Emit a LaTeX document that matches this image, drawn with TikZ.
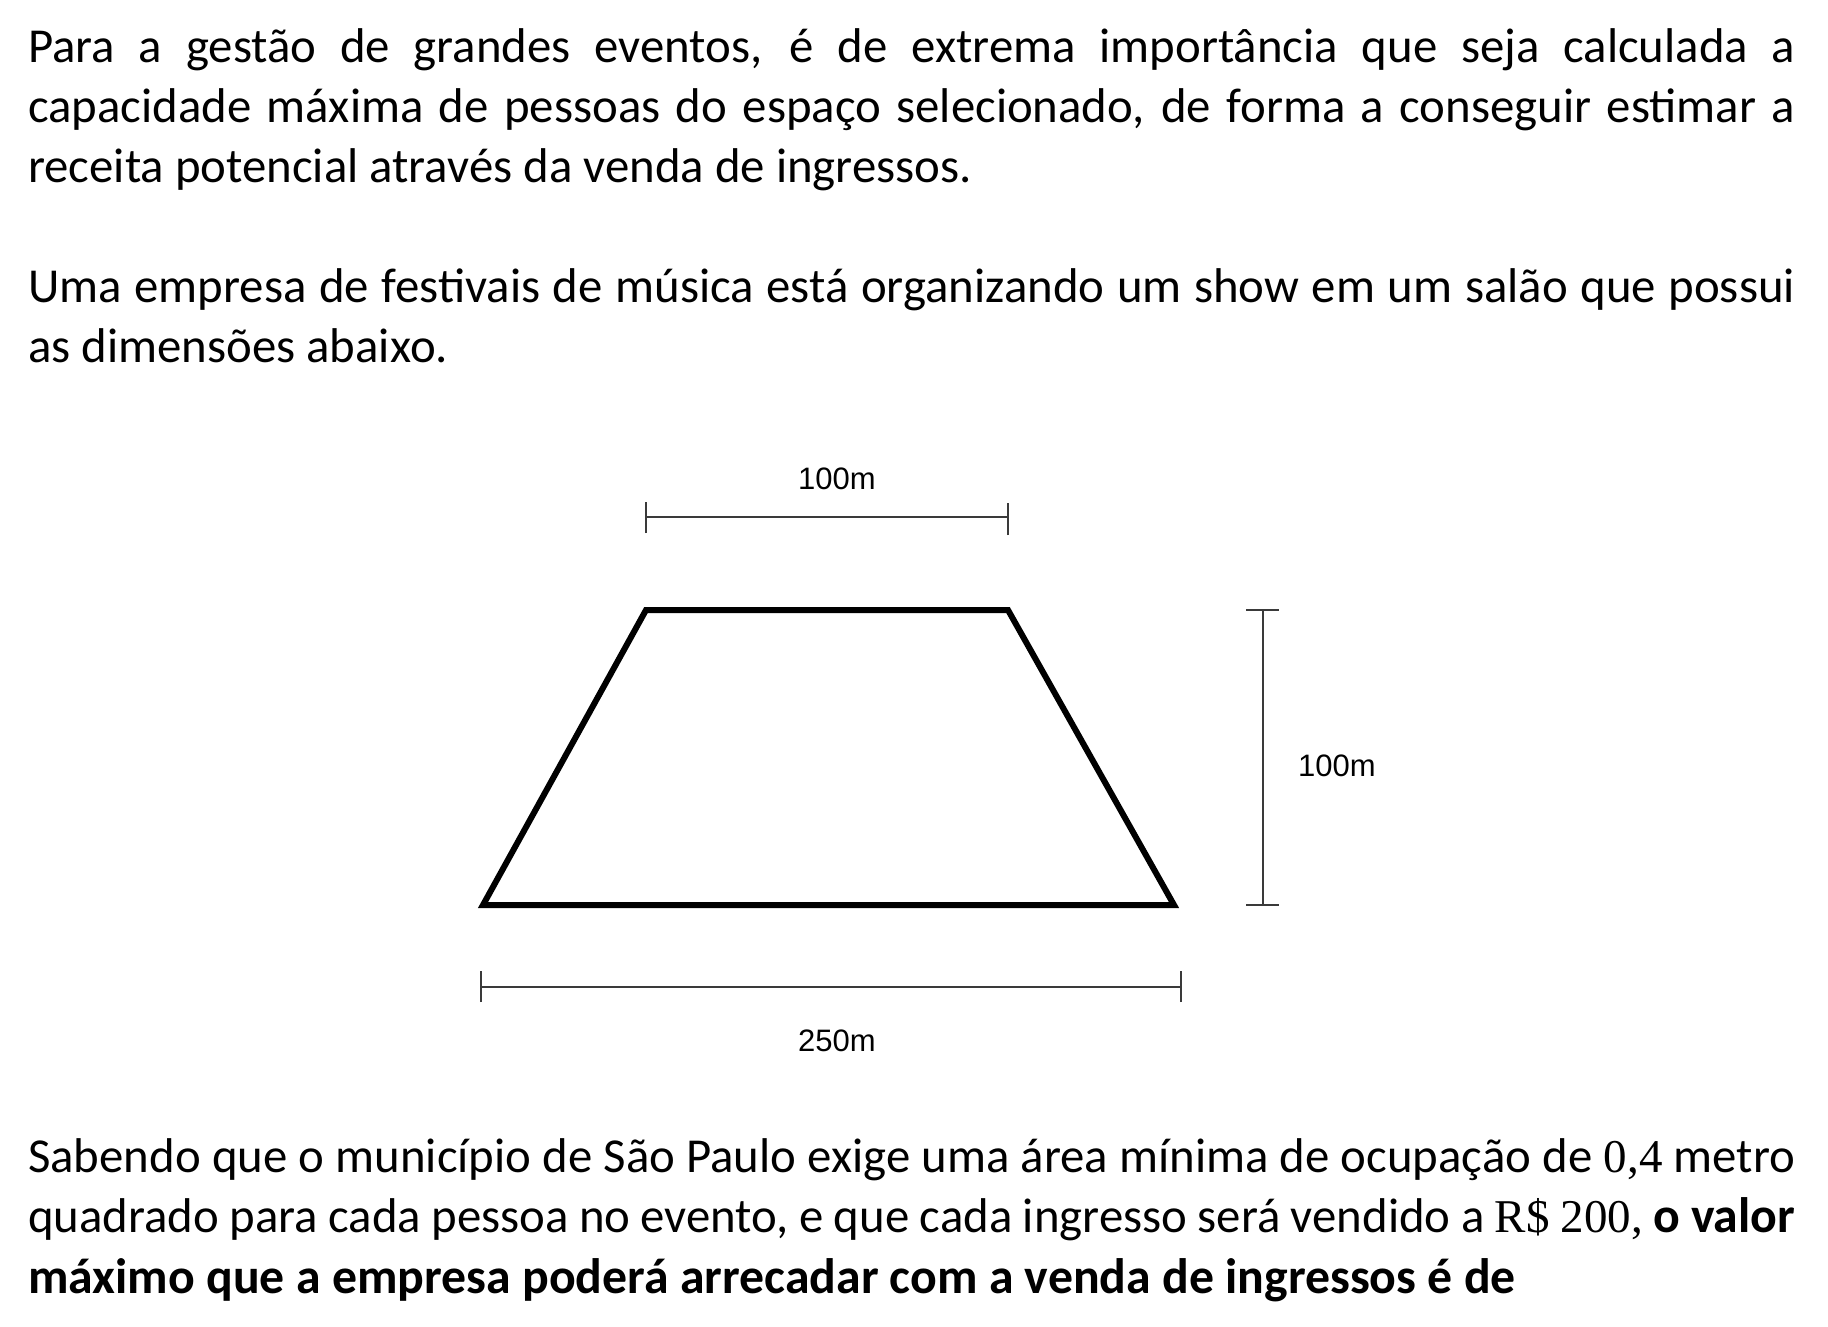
\documentclass[tikz,border=0pt]{standalone}
\usepackage{fontspec}
\setmainfont{Carlito}
\newfontfamily\mathf{Liberation Serif}
\newfontfamily\labelf{Liberation Sans}
\definecolor{dimgray}{HTML}{3A3A3A}
\newcommand{\bodysize}{\fontsize{48.8}{60}\selectfont}
\newcommand{\boldsize}{\fontsize{49.8}{60}\selectfont}
\newcommand{\fullline}[1]{\makebox[1767pt][s]{#1}}
\begin{document}
\begin{tikzpicture}[x=1pt,y=-1pt,
  textline/.style={anchor=base west,inner sep=0pt,font=\bodysize},
  dimlabel/.style={inner sep=0pt,font=\labelf\fontsize{31}{31}\selectfont},
  hall/.style={line width=6pt,line join=miter},
  dimline/.style={draw=dimgray,line width=1.6pt},
]
\useasboundingbox[fill=white] (0,0) rectangle (1828,1326);

% paragraph 1
\node[textline] (l1) at (28,62) {\fullline{Para a gestão de grandes eventos, é de extrema importância que seja calculada a}};
\node[textline] (l2) at (28,122) {\fullline{capacidade máxima de pessoas do espaço selecionado, de forma a conseguir estimar a}};
\node[textline] (l3) at (28,182) {receita potencial através da venda de ingressos.};
% paragraph 2
\node[textline] (l4) at (28,302) {\fullline{Uma empresa de festivais de música está organizando um show em um salão que possui}};
\node[textline] (l5) at (28,362) {as dimensões abaixo.};

% trapezoid
\coordinate (tl) at (646,610);
\coordinate (tr) at (1008,610);
\coordinate (br) at (1174,905);
\coordinate (bl) at (483,905);
\draw[hall] (tl) -- (tr) -- (br) -- (bl) -- cycle;

% top dimension
\coordinate (ta) at (646,517);
\coordinate (tb) at (1008,517);
\draw[dimline] (ta) -- (tb);
\draw[dimline] ([yshift=-16pt]ta) -- ([yshift=15pt]ta);
\draw[dimline] ([yshift=-18pt]tb) -- ([yshift=14pt]tb);
\node[dimlabel] (toplab) at (837,479) {100m};

% right dimension
\coordinate (ra) at (1263,610);
\coordinate (rb) at (1263,905);
\draw[dimline] (ra) -- (rb);
\draw[dimline] ([xshift=-17pt]ra) -- ([xshift=16pt]ra);
\draw[dimline] ([xshift=-17pt]rb) -- ([xshift=16pt]rb);
\node[dimlabel] (rightlab) at (1337,766) {100m};

% bottom dimension
\coordinate (ba) at (481,987);
\coordinate (bb) at (1181,987);
\draw[dimline] (ba) -- (bb);
\draw[dimline] ([yshift=-15pt]ba) -- ([yshift=16pt]ba);
\draw[dimline] ([yshift=-15pt]bb) -- ([yshift=16pt]bb);
\node[dimlabel] (botlab) at (837,1041) {250m};

% paragraph 3
\node[textline] (l6) at (28,1172) {\fullline{Sabendo que o município de São Paulo exige uma área mínima de ocupação de {\mathf\fontsize{47}{60}\selectfont 0,4} metro}};
\node[textline] (l7) at (28,1232) {\fullline{quadrado para cada pessoa no evento, e que cada ingresso será vendido a {\mathf\fontsize{47}{60}\selectfont R\$ 200,} {\bfseries\boldsize o valor}}};
\node[textline] (l8) at (28,1293) {\bfseries\boldsize máximo que a empresa poderá arrecadar com a venda de ingressos é de};
\end{tikzpicture}
\end{document}
